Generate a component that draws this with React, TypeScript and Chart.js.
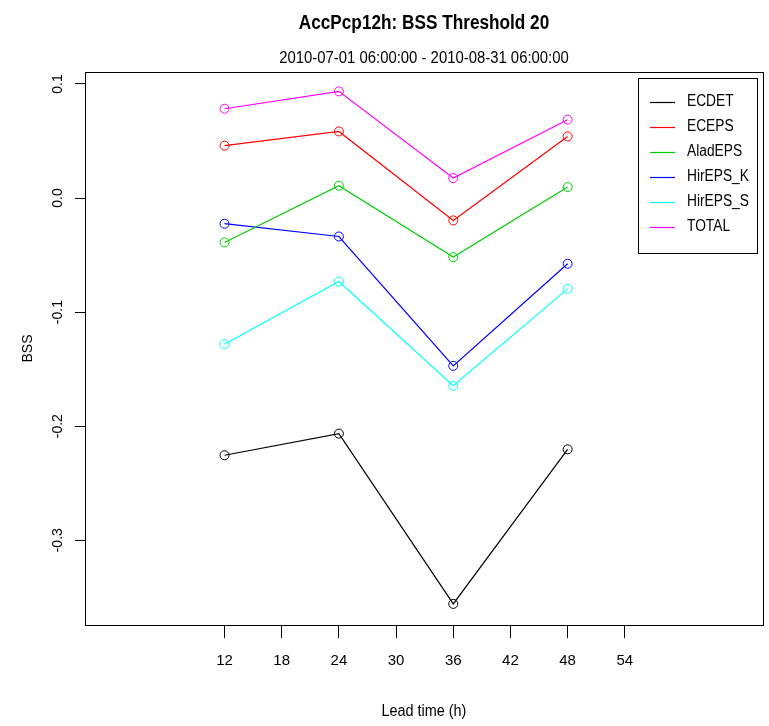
import React, { useEffect, useRef } from "react";
import { Chart, registerables } from "chart.js";

Chart.register(...registerables);

const LEAD_TIMES = [12, 24, 36, 48];
const X_TICKS = [12, 18, 24, 30, 36, 42, 48, 54];
const Y_TICKS = [-0.3, -0.2, -0.1, 0.0, 0.1];

const ECDET = [-0.2255, -0.2065, -0.3558, -0.2203];
const ECEPS = [0.0459, 0.0584, -0.0196, 0.054];
const ALADEPS = [-0.0389, 0.0108, -0.0518, 0.0096];
const HIREPS_K = [-0.0225, -0.0337, -0.1471, -0.0576];
const HIREPS_S = [-0.1281, -0.0732, -0.1646, -0.0796];
const TOTAL = [0.0783, 0.0935, 0.0175, 0.0687];

const SERIES_NAMES = ["ECDET", "ECEPS", "AladEPS", "HirEPS_K", "HirEPS_S", "TOTAL"];
const SERIES_VALUES = [ECDET, ECEPS, ALADEPS, HIREPS_K, HIREPS_S, TOTAL];
const SERIES_COLORS = ["#000000", "#FF0000", "#00CD00", "#0000FF", "#00FFFF", "#FF00FF"];

const TITLE = "AccPcp12h: BSS Threshold 20";
const SUBTITLE = "2010-07-01 06:00:00 - 2010-08-31 06:00:00";
const X_TITLE = "Lead time (h)";
const Y_TITLE = "BSS";

const FONT = "'Liberation Sans Narrow', 'Liberation Sans', Arial, sans-serif";

function drawCondensed(ctx: any, text: string, x: number, y: number, sx: number) {
  ctx.save();
  ctx.translate(x, y);
  ctx.scale(sx, 1);
  ctx.fillText(text, 0, 0);
  ctx.restore();
}

const decorPlugin = {
  id: "rDecor",
  afterDraw(chart: any) {
    const ctx = chart.ctx;
    const a = chart.chartArea;
    const cx = (a.left + a.right) / 2;
    ctx.save();
    // box
    ctx.strokeStyle = "#000";
    ctx.lineWidth = 1;
    ctx.strokeRect(Math.round(a.left) + 0.5, Math.round(a.top) + 0.5, Math.round(a.right - a.left), Math.round(a.bottom - a.top));

    ctx.fillStyle = "#000";
    ctx.textAlign = "center";
    ctx.textBaseline = "middle";
    // titles
    ctx.font = "bold 20px " + FONT;
    drawCondensed(ctx, TITLE, cx, 23, 0.86);
    ctx.font = "16px " + FONT;
    drawCondensed(ctx, SUBTITLE, cx, 59, 0.93);
    ctx.font = "16px " + FONT;
    drawCondensed(ctx, X_TITLE, cx, 712, 0.9);

    // y title
    ctx.save();
    ctx.translate(28, (a.top + a.bottom) / 2);
    ctx.rotate(-Math.PI / 2);
    ctx.font = "14px " + FONT;
    ctx.fillText(Y_TITLE, 0, 0);
    ctx.restore();

    // y tick labels rotated
    const ys = chart.scales.y;
    ctx.font = "14px " + FONT;
    ys.ticks.forEach((t: any) => {
      const py = ys.getPixelForValue(t.value);
      ctx.save();
      ctx.translate(58, py);
      ctx.rotate(-Math.PI / 2);
      ctx.fillText(Number(t.value).toFixed(1), 0, 0);
      ctx.restore();
    });

    // legend
    const lx = 638, ly = 78, lw = 119, lh = 175;
    ctx.fillStyle = "#fff";
    ctx.fillRect(lx, ly, lw, lh);
    ctx.strokeStyle = "#000";
    ctx.strokeRect(lx + 0.5, ly + 0.5, lw, lh);
    ctx.textAlign = "left";
    ctx.font = "16px " + FONT;
    chart.data.datasets.forEach((ds: any, i: number) => {
      const y = 102 + 25 * i;
      ctx.strokeStyle = ds.borderColor;
      ctx.lineWidth = 1.2;
      ctx.beginPath();
      ctx.moveTo(650, y + 0.5);
      ctx.lineTo(675, y + 0.5);
      ctx.stroke();
      ctx.fillStyle = "#000";
      drawCondensed(ctx, ds.label, 687, y, 0.86);
    });
    ctx.restore();
  },
};

export default function App() {
  const ref = useRef<HTMLCanvasElement | null>(null);
  useEffect(() => {
    if (!ref.current) return;
    const chart = new Chart(ref.current, {
      type: "line",
      data: {
        datasets: SERIES_NAMES.map((name, i) => ({
          label: name,
          data: LEAD_TIMES.map((x, j) => ({ x, y: SERIES_VALUES[i][j] })),
          borderColor: SERIES_COLORS[i],
          borderWidth: 1.2,
          pointRadius: 4.5,
          pointBorderWidth: 1,
          pointBorderColor: SERIES_COLORS[i],
          pointBackgroundColor: "rgba(0,0,0,0)",
          fill: false,
          tension: 0,
        })),
      },
      options: {
        responsive: false,
        animation: false,
        layout: { padding: { top: 72, right: 6, left: 0, bottom: 0 } },
        plugins: {
          legend: { display: false },
          title: { display: false },
          tooltip: { enabled: false },
        },
        scales: {
          x: {
            type: "linear",
            min: -2.64,
            max: 68.5,
            afterBuildTicks: (s: any) => {
              s.ticks = X_TICKS.map((v) => ({ value: v }));
            },
            afterFit: (s: any) => {
              s.height = 101;
            },
            grid: { drawOnChartArea: false, drawTicks: true, tickLength: 13, color: "#000", tickWidth: 1 },
            border: { display: false },
            ticks: {
              color: "#000",
              font: { family: FONT, size: 15 },
              padding: 14,
              maxRotation: 0,
              minRotation: 0,
              autoSkip: false,
              callback: (v: any) => String(v),
            },
          },
          y: {
            type: "linear",
            min: -0.3743,
            max: 0.1105,
            afterBuildTicks: (s: any) => {
              s.ticks = Y_TICKS.map((v) => ({ value: v }));
            },
            afterFit: (s: any) => {
              s.width = 85;
            },
            grid: { drawOnChartArea: false, drawTicks: true, tickLength: 10, color: "#000", tickWidth: 1 },
            border: { display: false },
            ticks: {
              color: "rgba(0,0,0,0)",
              font: { family: FONT, size: 14 },
              callback: (v: any) => Number(v).toFixed(1),
            },
          },
        },
      },
      plugins: [decorPlugin],
    } as any);
    return () => chart.destroy();
  }, []);
  return (
    <div style={{ position: "fixed", left: 0, top: 0, width: 769, height: 726, background: "#fff" }}>
      <canvas ref={ref} width={769} height={726} style={{ width: 769, height: 726, display: "block" }} />
    </div>
  );
}
